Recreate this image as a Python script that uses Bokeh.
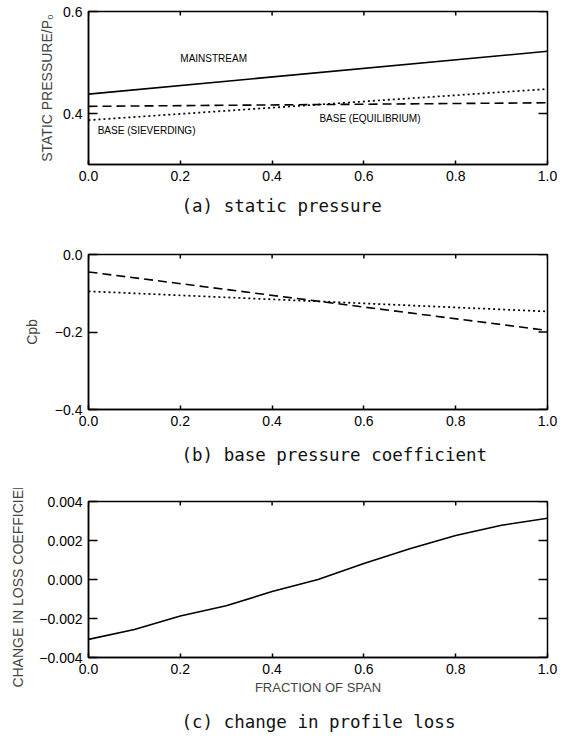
import math
from bokeh.plotting import figure
from bokeh.layouts import column
from bokeh.models import FixedTicker, Range1d, Title, Label, CustomJSTickFormatter
from bokeh.embed import file_html
from bokeh.resources import INLINE

# ---------------- data ----------------
span_ends = [0.0, 1.0]
mainstream = [0.438, 0.522]
base_equilibrium = [0.414, 0.421]
base_sieverding = [0.387, 0.448]

cpb_equilibrium = [-0.045, -0.196]
cpb_sieverding = [-0.095, -0.147]

span_c = [0.0, 0.1, 0.2, 0.3, 0.4, 0.5, 0.6, 0.7, 0.8, 0.9, 1.0]
loss_change = [-0.00307, -0.00256, -0.00187, -0.00135, -0.00062, 0.0,
               0.00082, 0.00158, 0.00226, 0.00278, 0.00314]

x_ticks = [0.0, 0.2, 0.4, 0.6, 0.8, 1.0]
ya_ticks = [0.4, 0.6]
yb_ticks = [-0.4, -0.2, 0.0]
yc_ticks = [-0.004, -0.002, 0.0, 0.002, 0.004]

# ---------------- style ----------------
W = 560
LABEL_FONT = "Liberation Sans"
CAP_FONT = "DejaVu Sans Mono"
TICK_SIZE = "14px"


def fmt(digits):
    return CustomJSTickFormatter(
        code="return tick.toFixed(%d).replace('-', '\\u2212');" % digits)


def make_fig(height, yrange, yticks, ydigits, ylabel, caption, top, bottom,
             ylabel_standoff, caption_standoff, xlabel=None):
    p = figure(width=W, height=height, x_range=Range1d(0, 1), y_range=Range1d(*yrange),
               output_backend="svg", toolbar_location=None,
               min_border_left=88, min_border_right=13,
               min_border_top=top, min_border_bottom=bottom)
    p.grid.visible = False
    p.outline_line_color = "black"
    p.outline_line_width = 1.5
    p.background_fill_color = "white"
    p.border_fill_color = "white"

    xa = p.xaxis[0]
    xa.ticker = FixedTicker(ticks=x_ticks)
    xa.formatter = fmt(1)
    xa.major_tick_in = 4
    xa.major_tick_out = 0
    xa.minor_tick_line_color = None
    xa.axis_line_width = 1.5
    xa.major_tick_line_width = 1.5
    xa.major_label_text_font = LABEL_FONT
    xa.major_label_text_font_size = TICK_SIZE
    xa.major_label_text_color = "black"
    xa.major_label_standoff = 6
    if xlabel:
        xa.axis_label = xlabel
        xa.axis_label_text_font = LABEL_FONT
        xa.axis_label_text_font_size = "13px"
        xa.axis_label_text_font_style = "normal"
        xa.axis_label_standoff = 3

    ya = p.yaxis[0]
    ya.ticker = FixedTicker(ticks=yticks)
    ya.formatter = fmt(ydigits)
    ya.major_tick_in = 9
    ya.major_tick_out = 0
    ya.minor_tick_line_color = None
    ya.axis_line_width = 1.5
    ya.major_tick_line_width = 1.5
    ya.major_label_text_font = LABEL_FONT
    ya.major_label_text_font_size = TICK_SIZE
    ya.major_label_text_color = "black"
    ya.major_label_standoff = 6
    ya.axis_label = ylabel
    ya.axis_label_text_font = LABEL_FONT
    ya.axis_label_text_font_size = "14px"
    ya.axis_label_text_font_style = "normal"
    ya.axis_label_standoff = ylabel_standoff

    # inward tick marks on the right and top borders of the frame
    xr = p.x_range.end
    yt = p.y_range.end
    p.scatter([xr] * len(yticks), yticks, marker="dash", size=18,
              line_color="black", line_width=1.5)
    p.scatter(x_ticks, [yt] * len(x_ticks), marker="dash", size=8, angle=math.pi / 2,
              line_color="black", line_width=1.5)

    p.add_layout(Title(text=caption, align="left", offset=93, text_font=CAP_FONT,
                       text_font_size="17.5px", text_font_style="normal",
                       text_color="#111111", standoff=caption_standoff), "below")
    return p


# (a) static pressure
pa = make_fig(238, (0.3, 0.6), ya_ticks, 1, "STATIC PRESSURE/P\u2080",
              "(a) static pressure", 11, 74, 5, 21)
pa.line(span_ends, mainstream, line_color="black", line_width=1.6)
pa.line(span_ends, base_equilibrium, line_color="black", line_width=1.6, line_dash="9 5")
pa.line(span_ends, base_sieverding, line_color="black", line_width=1.7, line_dash="2 3")
for x, y, t in [(0.2, 0.508, "MAINSTREAM"),
                (0.02, 0.367, "BASE (SIEVERDING)"),
                (0.503, 0.39, "BASE (EQUILIBRIUM)")]:
    pa.add_layout(Label(x=x, y=y, text=t, text_font=LABEL_FONT, text_font_size="10px",
                        text_baseline="middle", text_align="left", text_color="black"))

# (b) base pressure coefficient
pb = make_fig(250, (-0.4, 0.0), yb_ticks, 1, "Cpb",
              "(b) base pressure coefficient", 16, 79, 12, 28)
pb.line(span_ends, cpb_equilibrium, line_color="black", line_width=1.6, line_dash="9 5")
pb.line(span_ends, cpb_sieverding, line_color="black", line_width=1.7, line_dash="2 3")

# (c) change in profile loss
pc = make_fig(256, (-0.004, 0.004), yc_ticks, 3, "CHANGE IN LOSS COEFFICIENT",
              "(c) change in profile loss", 13, 87, 10, 24, xlabel="FRACTION OF SPAN")
pc.line(span_c, loss_change, line_color="black", line_width=1.6)

layout = column(pa, pb, pc, spacing=0)
open("out.html", "w").write(file_html(layout, INLINE))
